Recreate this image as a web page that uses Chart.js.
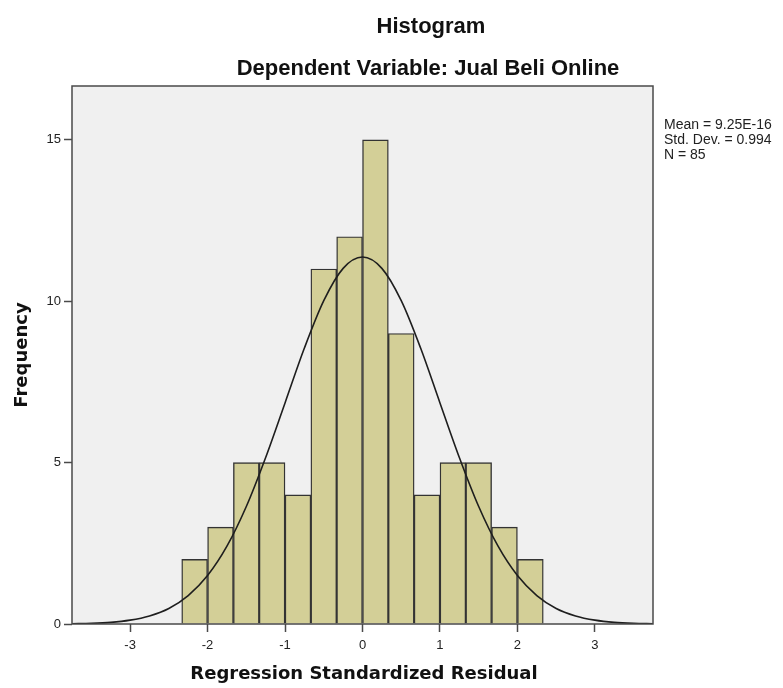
<!DOCTYPE html>
<html lang="en">

<head>
    <meta charset="UTF-8">
    <script src="https://cdn.jsdelivr.net/npm/chart.js"></script>
    <title>Histogram</title>
    <style>
        body { margin: 0; background: #ffffff; }
        .box { width: 783px; height: 688px; }
    </style>
</head>

<body>
    <div class="box">
        <canvas id="myChart-histograma" width="783" height="688"></canvas>
    </div>
</body>

</html>
<script>
    // bin centres (bin width 1/3) and counts
    var binCentros = [-2.167, -1.833, -1.5, -1.167, -0.833, -0.5, -0.167, 0.167, 0.5, 0.833, 1.167, 1.5, 1.833, 2.167];
    var frequencias = [2, 3, 5, 5, 4, 11, 12, 15, 9, 4, 5, 5, 3, 2];

    // normal curve
    var curvaX = [-3.75, -3.5, -3.25, -3, -2.75, -2.5, -2.25, -2, -1.75, -1.5, -1.25, -1, -0.75, -0.5, -0.25, 0,
        0.25, 0.5, 0.75, 1, 1.25, 1.5, 1.75, 2, 2.25, 2.5, 2.75, 3, 3.25, 3.5, 3.75];
    var curvaY = [0.01, 0.02, 0.05, 0.12, 0.25, 0.48, 0.88, 1.5, 2.41, 3.64, 5.16, 6.85, 8.55, 10.02, 11.02, 11.37,
        11.02, 10.02, 8.55, 6.85, 5.16, 3.64, 2.41, 1.5, 0.88, 0.48, 0.25, 0.12, 0.05, 0.02, 0.01];

    var xTicks = [-3, -2, -1, 0, 1, 2, 3];
    var yTicks = [0, 5, 10, 15];
    var estatisticas = ['Mean = 9.25E-16', 'Std. Dev. = 0.994', 'N = 85'];

    const ctx = document.getElementById('myChart-histograma');

    const fonte = '"Liberation Sans", Arial, sans-serif';
    const fonteEixo = '"DejaVu Sans", Verdana, sans-serif';

    const molduraPlugin = {
        id: 'moldura',
        beforeDraw(chart) {
            const a = chart.chartArea;
            const c = chart.ctx;
            c.save();
            c.fillStyle = '#f0f0f0';
            c.fillRect(a.left, a.top, a.right - a.left, a.bottom - a.top);
            c.restore();
        },
        afterDraw(chart) {
            const a = chart.chartArea;
            const c = chart.ctx;
            c.save();
            c.strokeStyle = '#4a4a4a';
            c.lineWidth = 1.5;
            c.strokeRect(a.left, a.top, a.right - a.left, a.bottom - a.top);

            c.fillStyle = '#111111';
            c.textAlign = 'center';
            c.textBaseline = 'alphabetic';
            c.font = 'bold 22px ' + fonte;
            c.fillText('Histogram', 431, 33);
            c.fillText('Dependent Variable: Jual Beli Online', 428, 75);

            c.font = 'bold 18px ' + fonteEixo;
            c.fillText('Regression Standardized Residual', 364, 679);

            c.save();
            c.translate(27, 355);
            c.rotate(-Math.PI / 2);
            c.fillText('Frequency', 0, 0);
            c.restore();

            c.textAlign = 'left';
            c.textBaseline = 'middle';
            c.font = '14px ' + fonte;
            c.fillStyle = '#222222';
            for (var i = 0; i < estatisticas.length; i++) {
                c.fillText(estatisticas[i], 664, 125 + i * 15);
            }
            c.restore();
        }
    };

    var grafico = new Chart(ctx, {
        data: {
            datasets: [{
                type: 'line',
                label: 'Normal',
                data: curvaX.map((x, i) => ({ x: x, y: curvaY[i] })),
                borderColor: '#1e1e1e',
                borderWidth: 1.6,
                pointRadius: 0,
                cubicInterpolationMode: 'monotone',
                fill: false,
                order: 0
            }, {
                type: 'bar',
                label: 'Frequency',
                data: binCentros.map((x, i) => ({ x: x, y: frequencias[i] })),
                backgroundColor: '#d3cf97',
                borderColor: '#333333',
                borderWidth: 1.4,
                barPercentage: 1,
                categoryPercentage: 1,
                order: 1
            }]
        },
        options: {
            responsive: false,
            animation: false,
            layout: {
                padding: { top: 86, right: 130, left: 0, bottom: 0 }
            },
            plugins: {
                legend: { display: false },
                tooltip: { enabled: false }
            },
            scales: {
                x: {
                    type: 'linear',
                    min: -3.75,
                    max: 3.75,
                    offset: false,
                    afterBuildTicks: (scale) => { scale.ticks = xTicks.map(v => ({ value: v })); },
                    afterFit: (scale) => { scale.height = 64; },
                    grid: {
                        offset: false,
                        drawOnChartArea: false,
                        tickLength: 8,
                        tickColor: '#4a4a4a',
                        tickWidth: 1.5
                    },
                    border: { display: false },
                    ticks: {
                        color: '#222222',
                        padding: 6,
                        font: { family: fonte, size: 13 }
                    }
                },
                y: {
                    min: 0,
                    max: 16.67,
                    afterBuildTicks: (scale) => { scale.ticks = yTicks.map(v => ({ value: v })); },
                    afterFit: (scale) => { scale.width = 72; },
                    grid: {
                        drawOnChartArea: false,
                        tickLength: 8,
                        tickColor: '#4a4a4a',
                        tickWidth: 1.5
                    },
                    border: { display: false },
                    ticks: {
                        color: '#222222',
                        padding: 3,
                        font: { family: fonte, size: 13 }
                    }
                }
            }
        },
        plugins: [molduraPlugin]
    });
</script>
